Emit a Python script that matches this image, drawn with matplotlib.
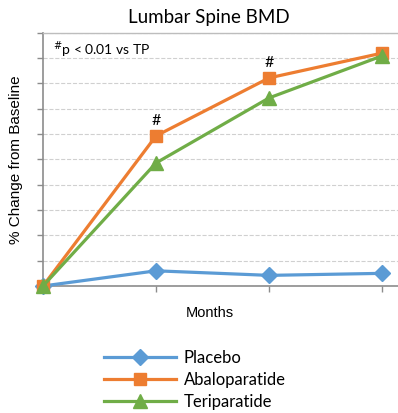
import numpy as np
import matplotlib.pyplot as plt
from matplotlib.lines import Line2D

# data (x = visit index, y in grid units)
months = [0, 1, 2, 3]
placebo = [0, 0.6, 0.42, 0.5]
abalo = [0, 5.93, 8.22, 9.2]
teri = [0, 4.86, 7.43, 9.09]
names = ['Placebo', 'Abaloparatide', 'Teriparatide']
colors = ['#5B9BD5', '#ED7D31', '#70AD47']
markers = ['D', 's', '^']
sizes = [8, 9, 10]

fig = plt.figure(figsize=(3.98, 4.13), dpi=100)
ax = fig.add_axes([0.108, 0.3075, 0.892, 0.613])

series = [placebo, abalo, teri]
for s, c, m, ms in zip(series, colors, markers, sizes):
    ax.plot(months, s, color=c, lw=2.3, marker=m, ms=ms, zorder=3, clip_on=False)

ax.set_xlim(0, 3.14)
ax.set_ylim(0, 10)
ax.set_yticks(np.arange(0, 11, 1))
ax.set_xticks(months)
ax.set_yticklabels([])
ax.set_xticklabels([])
ax.grid(axis='y', color='#d0d0d0', ls='--', lw=0.8)
ax.set_axisbelow(True)
ax.spines['right'].set_visible(False)
ax.spines['top'].set_color('#bdbdbd')
ax.spines['top'].set_linewidth(1)
for sp in ['left', 'bottom']:
    ax.spines[sp].set_color('#8c8c8c')
    ax.spines[sp].set_linewidth(1.2)
ax.tick_params(axis='both', color='#8c8c8c', length=4, width=1)

ax.set_title('Lumbar Spine BMD', fontsize=13.5, family='Lato', pad=7, x=0.467)
ax.set_ylabel('% Change from Baseline', fontsize=11, family='Liberation Sans')
ax.yaxis.set_label_coords(-0.055, 0.5)
ax.set_xlabel('Months', fontsize=10.5, family='Liberation Sans')
ax.xaxis.set_label_coords(0.47, -0.08)

for i in [1, 2]:
    ax.annotate('#', (months[i], abalo[i]), xytext=(0, 5.5), textcoords='offset points',
                ha='center', va='bottom', fontsize=11.5, family='Lato')
ax.text(0.028, 0.975, r'$^{\#}$p < 0.01 vs TP', transform=ax.transAxes,
        fontsize=10, family='Lato', va='top')

handles = [Line2D([], [], color=c, lw=2.3, marker=m, ms=ms)
           for c, m, ms in zip(colors, markers, sizes)]
fig.legend(handles, names, loc='upper left', bbox_to_anchor=(0.24, 0.173),
           frameon=False, handlelength=4.3, prop={'family': 'Lato', 'size': 12},
           labelspacing=0.35, handletextpad=0.5, borderpad=0)

fig.savefig('out.png', dpi=100)
